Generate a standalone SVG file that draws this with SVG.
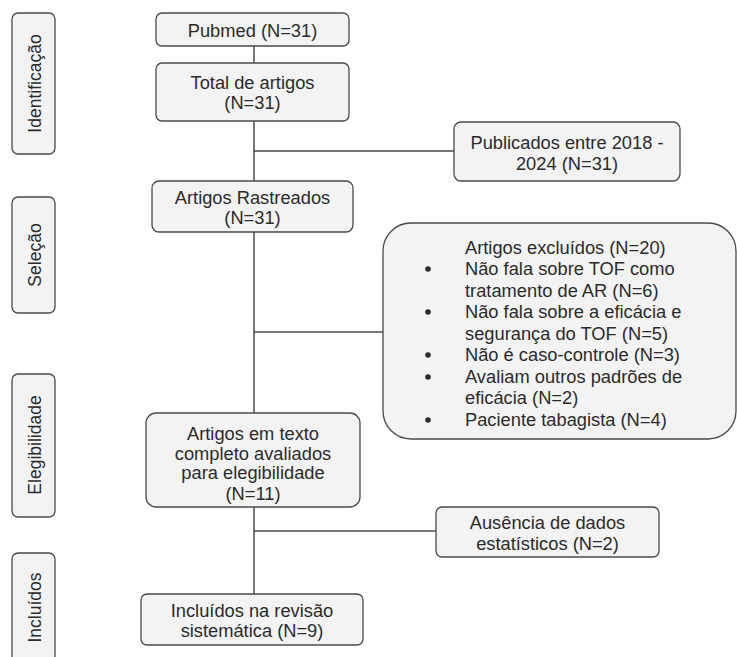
<svg xmlns="http://www.w3.org/2000/svg" width="737" height="657" viewBox="0 0 737 657">
<style>
.box{fill:#f3f3f3;stroke:#4a4a4a;stroke-width:1.3}
.lab{fill:#f3f3f3;stroke:#4a4a4a;stroke-width:1.3}
.t{font-family:"Liberation Sans",Arial,sans-serif;font-size:18.3px;fill:#2b2b2b}
.s{font-size:17.5px}
.c{text-anchor:middle}
.conn line{stroke:#4a4a4a;stroke-width:1.5}
.bul{fill:#2b2b2b}
</style>
<rect width="737" height="657" fill="#ffffff"/>

<g id="phase-identificacao">
<rect class="lab" x="12" y="13" width="43" height="141" rx="6"/>
<text class="t s c" transform="translate(41,83.5) rotate(-90)">Identificação</text>
</g>
<g id="phase-selecao">
<rect class="lab" x="12" y="197" width="43" height="116" rx="6"/>
<text class="t s c" transform="translate(41,255) rotate(-90)">Seleção</text>
</g>
<g id="phase-elegibilidade">
<rect class="lab" x="12" y="374" width="43" height="143" rx="6"/>
<text class="t s c" transform="translate(41,445) rotate(-90)">Elegibilidade</text>
</g>
<g id="phase-incluidos">
<rect class="lab" x="12" y="553" width="43" height="115" rx="6"/>
<text class="t s c" transform="translate(41,607.5) rotate(-90)">Incluídos</text>
</g>

<g id="connectors" class="conn">
<line x1="254" y1="46" x2="254" y2="63"/>
<line x1="254" y1="121" x2="254" y2="181"/>
<line x1="254" y1="232" x2="254" y2="413"/>
<line x1="254" y1="507" x2="254" y2="594"/>
<line x1="254" y1="151" x2="454" y2="151"/>
<line x1="254" y1="332" x2="383" y2="332"/>
<line x1="254" y1="531" x2="436" y2="531"/>
</g>

<g id="pubmed">
<rect class="box" x="156" y="13" width="193" height="33" rx="6"/>
<text class="t c" x="252.5" y="36.5">Pubmed (N=31)</text>
</g>
<g id="total">
<rect class="box" x="156" y="63" width="193" height="58" rx="6"/>
<text class="t c" x="252.5" y="88.5">Total de artigos</text>
<text class="t c" x="252.5" y="108.5">(N=31)</text>
</g>
<g id="publicados">
<rect class="box" x="454" y="122" width="226" height="59" rx="7"/>
<text class="t c" x="567" y="148.5">Publicados entre 2018 -</text>
<text class="t c" x="567" y="169.5">2024 (N=31)</text>
</g>
<g id="rastreados">
<rect class="box" x="152" y="181" width="201" height="51" rx="7"/>
<text class="t c" x="252.5" y="203.5">Artigos Rastreados</text>
<text class="t c" x="252.5" y="223.5">(N=31)</text>
</g>
<g id="excluidos">
<rect class="box" x="383" y="223" width="353" height="216" rx="28"/>
<text class="t" x="465" y="253.5">Artigos excluídos (N=20)</text>
<circle class="bul" cx="428" cy="269" r="2.8"/>
<text class="t" x="465" y="275">Não fala sobre TOF como</text>
<text class="t" x="465" y="296.5">tratamento de AR (N=6)</text>
<circle class="bul" cx="428" cy="312" r="2.8"/>
<text class="t" x="465" y="318">Não fala sobre a eficácia e</text>
<text class="t" x="465" y="339.5">segurança do TOF (N=5)</text>
<circle class="bul" cx="428" cy="355" r="2.8"/>
<text class="t" x="465" y="361">Não é caso-controle (N=3)</text>
<circle class="bul" cx="428" cy="377" r="2.8"/>
<text class="t" x="465" y="382.5">Avaliam outros padrões de</text>
<text class="t" x="465" y="404">eficácia (N=2)</text>
<circle class="bul" cx="428" cy="420" r="2.8"/>
<text class="t" x="465" y="425.5">Paciente tabagista (N=4)</text>
</g>
<g id="texto-completo">
<rect class="box" x="146" y="413" width="214" height="94" rx="10"/>
<text class="t c" x="253" y="439.5">Artigos em texto</text>
<text class="t c" x="253" y="459.5">completo avaliados</text>
<text class="t c" x="253" y="478.5">para elegibilidade</text>
<text class="t c" x="253" y="499.5">(N=11)</text>
</g>
<g id="ausencia">
<rect class="box" x="436" y="507" width="223" height="50" rx="6"/>
<text class="t c" x="547.5" y="528.5">Ausência de dados</text>
<text class="t c" x="547.5" y="549.5">estatísticos (N=2)</text>
</g>
<g id="incluidos">
<rect class="box" x="141" y="594" width="222" height="51" rx="6"/>
<text class="t c" x="252" y="616.5">Incluídos na revisão</text>
<text class="t c" x="252" y="636.5">sistemática (N=9)</text>
</g>
</svg>
